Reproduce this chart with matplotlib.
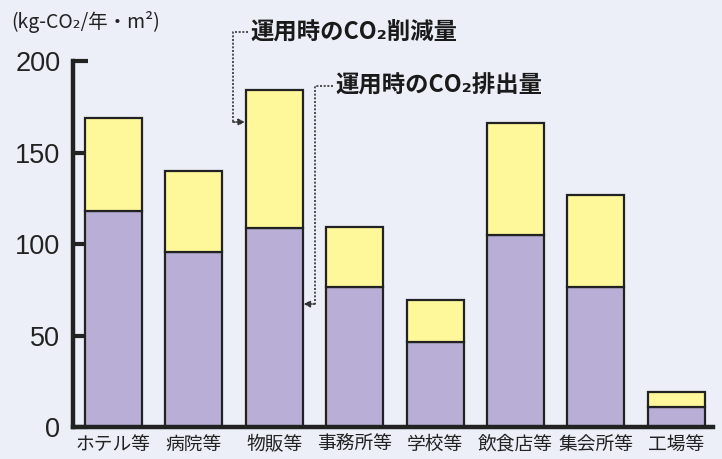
import matplotlib
matplotlib.use("Agg")
import matplotlib.pyplot as plt
import numpy as np

categories = ["ホテル等", "病院等", "物販等", "事務所等", "学校等", "飲食店等", "集会所等", "工場等"]
emission = [118, 95.5, 108.5, 76.5, 46.5, 105, 76.5, 11]      # 運用時のCO2排出量
total = [169, 140, 184, 109.5, 69.5, 166, 127, 19]            # 排出量 + 削減量
reduction = [t - e for t, e in zip(total, emission)]          # 運用時のCO2削減量
yticks = [0, 50, 100, 150, 200]

CJK = ["Noto Sans CJK JP", "DejaVu Sans"]
BG = "#ECEEF8"
PURPLE = "#B9AFD6"
YELLOW = "#FFF89B"
EDGE = "#222222"

fig = plt.figure(figsize=(7.22, 4.59), dpi=100, facecolor=BG)
ax = fig.add_axes([0.101, 0.0697, 0.8865, 0.7973], facecolor=BG)

x = np.arange(len(categories))
w = 0.71
ax.bar(x, emission, width=w, color=PURPLE, edgecolor=EDGE, linewidth=1.6, zorder=2)
ax.bar(x, reduction, width=w, bottom=emission, color=YELLOW, edgecolor=EDGE, linewidth=1.6, zorder=2)

ax.set_xlim(-0.504, 7.456)
ax.set_ylim(0, 200)
ax.set_axisbelow(True)
for s in ["top", "right"]:
    ax.spines[s].set_visible(False)
for s in ["left", "bottom"]:
    ax.spines[s].set_linewidth(3.2)
    ax.spines[s].set_color(EDGE)
    ax.spines[s].set_capstyle("projecting")

ax.set_yticks(yticks)
ax.set_yticklabels([str(v) for v in yticks], family="Liberation Sans", fontsize=19.5, color="#222222")
ax.tick_params(axis="y", direction="in", length=11, width=3, color=EDGE, pad=9)
ax.set_xticks(x)
ax.set_xticklabels(categories, family=CJK, fontsize=13.5, color="#222222")
ax.tick_params(axis="x", length=0, pad=5)

# unit label
fig.text(0.016, 0.952, "(kg-CO₂/年・m²)", family=CJK, fontsize=14, color="#222222",
         va="center", ha="left")

# annotations
def px2x(px):
    return (px - 113.5) / 80.4

def py2y(py):
    return (427 - py) / 1.83

lk = dict(color="#333333", linewidth=1.2, linestyle=(0, (1.2, 1.0)), clip_on=False, zorder=5)
ap = dict(arrowstyle="-|>,head_length=0.35,head_width=0.18", color="#333333",
          linewidth=1.2, linestyle=(0, (1.2, 1.0)), shrinkA=0, shrinkB=0)

# 削減量 -> yellow part of 物販等
t1x, t1y = px2x(250), py2y(32)
vx1 = px2x(233)
ay1 = py2y(122)
ax.text(t1x, t1y, "運用時のCO₂削減量", family=CJK, fontsize=16.8, fontweight="bold",
        color="#1a1a1a", va="center", ha="left", clip_on=False)
ax.plot([t1x - 0.02, vx1, vx1], [t1y, t1y, ay1], **lk)
ax.annotate("", xy=(2 - w / 2 - 0.01, ay1), xytext=(vx1, ay1), arrowprops=ap,
            annotation_clip=False, zorder=5)

# 排出量 -> purple part of 物販等
t2x, t2y = px2x(335), py2y(86)
vx2 = px2x(315)
ay2 = py2y(304)
ax.text(t2x, t2y, "運用時のCO₂排出量", family=CJK, fontsize=16.8, fontweight="bold",
        color="#1a1a1a", va="center", ha="left", clip_on=False)
ax.plot([t2x - 0.02, vx2, vx2], [t2y, t2y, ay2], **lk)
ax.annotate("", xy=(2 + w / 2 + 0.01, ay2), xytext=(vx2, ay2), arrowprops=ap,
            annotation_clip=False, zorder=5)

fig.savefig("out.png", dpi=100, facecolor=BG)
